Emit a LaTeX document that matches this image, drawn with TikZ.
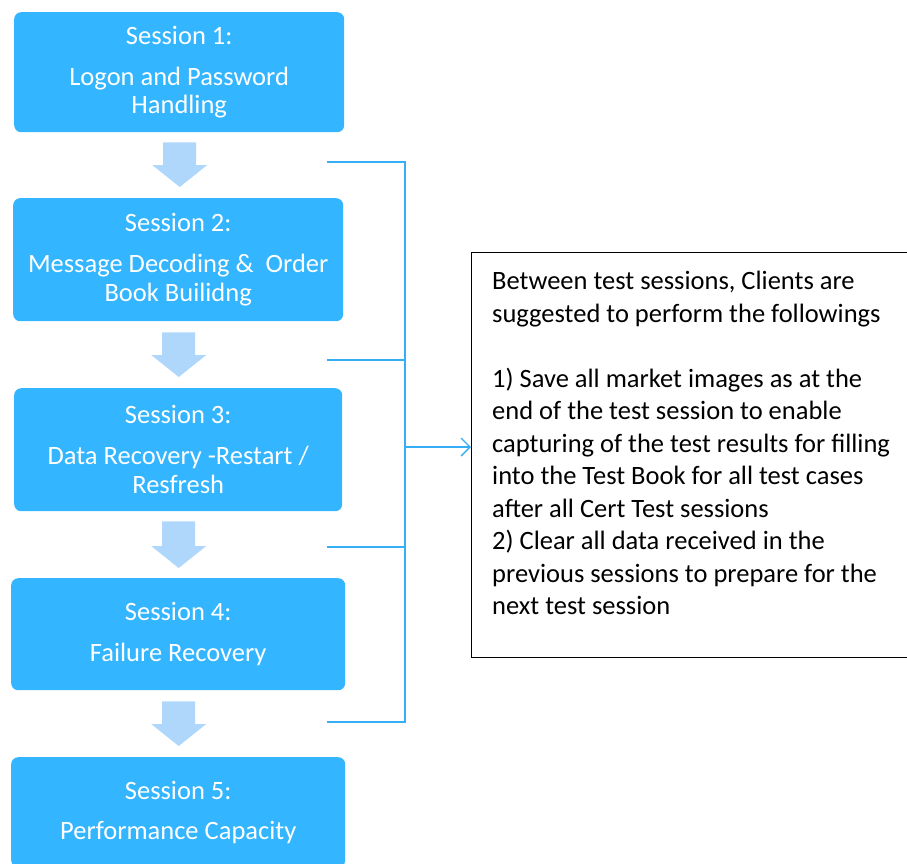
\documentclass[tikz,border=0pt]{standalone}
\usepackage{fontspec}
\setmainfont{Carlito}
\usetikzlibrary{calc,arrows.meta}
\definecolor{boxblue}{HTML}{33B5FF}
\definecolor{arrblue}{HTML}{AFD7FC}
\definecolor{linblue}{HTML}{35AEF5}
\tikzset{
  sess/.style={draw=none, fill=boxblue, rounded corners=7pt, text=white, align=center,
    font=\fontsize{26.5}{28.5}\selectfont, inner sep=0pt},
  blockarr/.style={fill=arrblue, draw=none},
  brk/.style={draw=linblue, line width=1.4pt},
}
\newcommand\blkarrow[2]{%
  \coordinate (t) at #1; \coordinate (p) at #2;
  \fill[blockarr] ($(t)+(-16.5,0)$) -- ($(t)+(16.5,0)$) -- ($(t |- p)+(16.5,-22)$) -- ($(t |- p)+(27.5,-22)$)
    -- (t |- p) -- ($(t |- p)+(-27.5,-22)$) -- ($(t |- p)+(-16.5,-22)$) -- cycle;}
\begin{document}
\begin{tikzpicture}[x=1pt,y=-1pt]
\useasboundingbox (0,0) rectangle (907,863);
\node[sess, minimum width=330, minimum height=120, anchor=north west] (b1) at (14,12)
  {Session 1:\\[12.5pt]Logon and Password\\Handling};
\node[sess, minimum width=330, minimum height=123, anchor=north west] (b2) at (13,198)
  {Session 2:\\[12.5pt]Message Decoding \&\ \ Order\\Book Builidng};
\node[sess, minimum width=328, minimum height=123, anchor=north west] (b3) at (14,388)
  {Session 3:\\[12.5pt]Data Recovery -Restart /\\Resfresh};
\node[sess, minimum width=334, minimum height=112, anchor=north west] (b4) at (11,578)
  {Session 4:\\[12.5pt]Failure Recovery};
\node[sess, minimum width=334, minimum height=110, anchor=north west] (b5) at (11,757)
  {Session 5:\\[11.5pt]Performance Capacity};
% block arrows
\blkarrow{($(b1.south)+(0.5,10)$)}{($(b2.north)+(0,-11)$)}
\blkarrow{($(b2.south)+(0.5,11)$)}{($(b3.north)+(0,-11)$)}
\blkarrow{($(b3.south)+(0.5,10)$)}{($(b4.north)+(0,-10)$)}
\blkarrow{($(b4.south)+(0.5,11)$)}{($(b5.north)+(0,-11)$)}
% bracket
\coordinate (h1) at (327,162);
\coordinate (h2) at (327,360);
\coordinate (h3) at (327,547);
\coordinate (h4) at (327,722);
\coordinate (v1) at (405,162);
\coordinate (v2) at (405,360);
\coordinate (v3) at (405,547);
\coordinate (v4) at (405,722);
\coordinate (mid) at (405,447);
\draw[brk] (h1) -- (v1) -- (v4) -- (h4);
\draw[brk] (h2) -- (v2);
\draw[brk] (h3) -- (v3);
% note box
\node[draw=black, line width=1.2pt, minimum width=480, minimum height=405, anchor=north west, inner sep=0pt] (note) at (471,252) {};
\node[anchor=north west, align=left, inner sep=0pt, font=\fontsize{26.5}{32.5}\selectfont] (notetext) at (492,271)
  {Between test sessions, Clients are\\
   suggested to perform the followings\\[32.5pt]
   1) Save all market images as at the\\
   end of the test session to enable\\
   capturing of the test results for filling\\
   into the Test Book for all test cases\\
   after all Cert Test sessions\\
   2) Clear all data received in the\\
   previous sessions to prepare for the\\
   next test session};
\draw[brk, -{Straight Barb[length=9pt, width=18pt, line width=1.4pt]}] (mid) -- (note.west |- mid);
\end{tikzpicture}
\end{document}
